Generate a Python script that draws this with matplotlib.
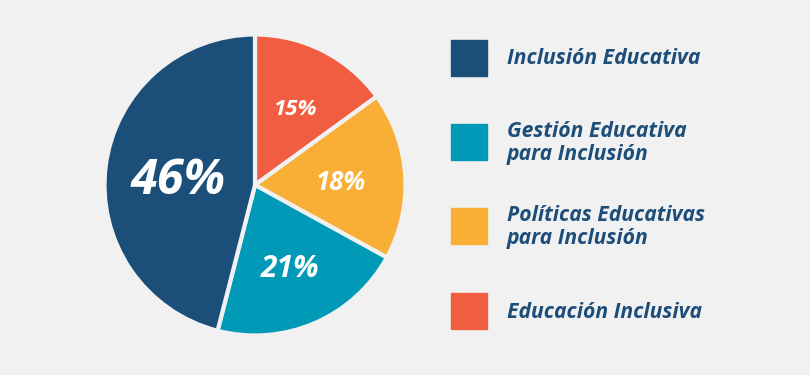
import matplotlib
matplotlib.use("Agg")
import matplotlib.pyplot as plt
from matplotlib.patches import Rectangle
import numpy as np

# datos del gráfico
categorias = ["Educación Inclusiva", "Políticas Educativas\npara Inclusión",
              "Gestión Educativa\npara Inclusión", "Inclusión Educativa"]
valores = [15, 18, 21, 46]
colores = ["#f05d41", "#f9ae35", "#009ab8", "#1b4f79"]
tam_etiqueta = [16, 18.5, 21.5, 35]   # tamaño de fuente de cada porcentaje
dist_etiqueta = [0.59, 0.58, 0.59, 0.52]

fondo = "#f1f1f1"
azul_texto = "#1d4e7a"
fuente = "Open Sans"

fig = plt.figure(figsize=(8.1, 3.75), dpi=100)
fig.patch.set_facecolor(fondo)

# pastel: centro (255,185) px, radio ~149 px
cx, cy, r = 255, 185, 149
ax = fig.add_axes([(cx - 150) / 810, (375 - cy - 150) / 375, 300 / 810, 300 / 375])
ax.set_facecolor(fondo)
wedges, _ = ax.pie(valores, colors=colores, startangle=90, counterclock=False,
                   radius=1.01,
                   wedgeprops=dict(edgecolor=fondo, linewidth=3))
lim = 150 / r
ax.set_xlim(-lim, lim)
ax.set_ylim(-lim, lim)
ax.set_aspect("equal")
ax.axis("off")

for w, v, fs, d in zip(wedges, valores, tam_etiqueta, dist_etiqueta):
    ang = np.deg2rad((w.theta1 + w.theta2) / 2)
    ax.text(d * np.cos(ang), d * np.sin(ang), f"{v}%", ha="center",
            va="center_baseline", color="white", fontsize=fs, fontweight="bold",
            fontstyle="italic", family=fuente)

# leyenda dibujada a mano
lg = fig.add_axes([0, 0, 1, 1])
lg.set_xlim(0, 810)
lg.set_ylim(375, 0)
lg.axis("off")
orden = [3, 2, 1, 0]
y_centros = [58, 142, 226, 311]
for i, yc in zip(orden, y_centros):
    lg.add_patch(Rectangle((451, yc - 18), 36, 36, color=colores[i]))
    lg.text(507, yc + 1, categorias[i], ha="left", va="center", color=azul_texto,
            fontsize=15.2, fontweight="bold", fontstyle="italic", family=fuente,
            linespacing=1.1)

fig.savefig("out.png", dpi=100, facecolor=fondo)
